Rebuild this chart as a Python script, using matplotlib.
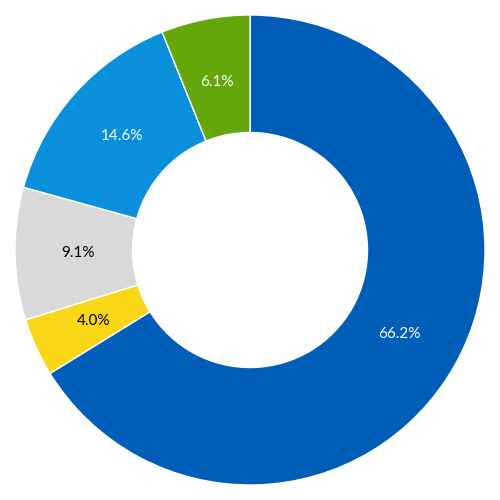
import matplotlib.pyplot as plt

labels = ["66.2%", "4.0%", "9.1%", "14.6%", "6.1%"]
values = [66.2, 4.0, 9.1, 14.6, 6.1]
colors = ["#005EB8", "#F9D616", "#D9D9D9", "#0A8FDA", "#64A70B"]
text_colors = ["white", "black", "black", "white", "white"]

plt.rcParams["font.family"] = ["Lato", "DejaVu Sans"]

fig = plt.figure(figsize=(5, 5), dpi=100)
ax = fig.add_axes([0, 0, 1, 1])
wedges, texts = ax.pie(
    values,
    colors=colors,
    startangle=90,
    counterclock=False,
    radius=1,
    wedgeprops=dict(width=0.5, edgecolor="white", linewidth=1),
    labels=labels,
    labeldistance=0.73,
    textprops=dict(fontsize=11, ha="center", va="center"),
)
for t, c in zip(texts, text_colors):
    t.set_color(c)
    t.set_horizontalalignment("center")
lim = 250 / 235
ax.set_xlim(-lim, lim)
ax.set_ylim(-lim, lim)
ax.set_aspect("equal")
ax.axis("off")
fig.savefig("out.png", dpi=100, facecolor="white")
